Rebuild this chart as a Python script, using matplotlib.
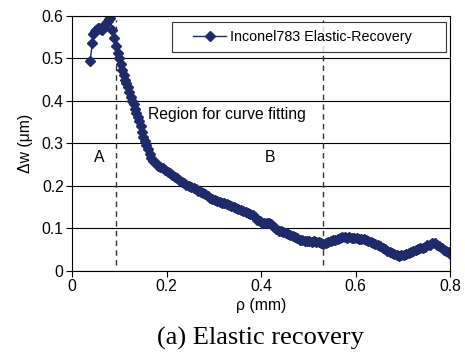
import matplotlib
matplotlib.use("Agg")
from matplotlib import pyplot as plt
from matplotlib.ticker import FuncFormatter
from matplotlib.legend_handler import HandlerLine2D

plt.rcParams['font.family'] = ['Liberation Sans', 'DejaVu Sans']

# radial position (mm) and elastic recovery (um)
rho = [0.038, 0.043, 0.045, 0.048, 0.051, 0.054, 0.057, 0.060, 0.063, 0.066,
       0.069, 0.072, 0.075, 0.078, 0.081, 0.085, 0.089, 0.093, 0.097, 0.100,
       0.103, 0.106, 0.109, 0.112, 0.115, 0.118, 0.121, 0.124, 0.127, 0.130,
       0.133, 0.136, 0.139, 0.142, 0.145, 0.148, 0.151, 0.154, 0.157, 0.160,
       0.164, 0.168, 0.172, 0.177, 0.182, 0.187, 0.192, 0.197, 0.202, 0.207,
       0.212, 0.217, 0.222, 0.227, 0.232, 0.237, 0.242, 0.247, 0.252, 0.257,
       0.262, 0.267, 0.272, 0.277, 0.282, 0.287, 0.292, 0.297, 0.302, 0.307,
       0.312, 0.317, 0.322, 0.327, 0.332, 0.337, 0.342, 0.347, 0.352, 0.357,
       0.362, 0.367, 0.372, 0.377, 0.382, 0.387, 0.392, 0.397, 0.402, 0.407,
       0.412, 0.417, 0.422, 0.427, 0.432, 0.437, 0.442, 0.447, 0.452, 0.457,
       0.462, 0.467, 0.472, 0.477, 0.482, 0.487, 0.492, 0.497, 0.502, 0.507,
       0.512, 0.517, 0.522, 0.527, 0.532, 0.537, 0.542, 0.547, 0.552, 0.557,
       0.562, 0.567, 0.572, 0.577, 0.582, 0.587, 0.592, 0.597, 0.602, 0.607,
       0.612, 0.617, 0.622, 0.627, 0.632, 0.637, 0.642, 0.647, 0.652, 0.657,
       0.662, 0.667, 0.672, 0.677, 0.682, 0.687, 0.692, 0.697, 0.702, 0.707,
       0.712, 0.717, 0.722, 0.727, 0.732, 0.737, 0.742, 0.747, 0.752, 0.757,
       0.762, 0.767, 0.772, 0.777, 0.782, 0.787, 0.792, 0.797, 0.800]
dw = [0.494, 0.536, 0.558, 0.565, 0.568, 0.571, 0.572, 0.569, 0.566, 0.572,
      0.578, 0.583, 0.588, 0.592, 0.596, 0.567, 0.549, 0.530, 0.512, 0.500,
      0.487, 0.472, 0.460, 0.450, 0.442, 0.432, 0.420, 0.410, 0.400, 0.392,
      0.382, 0.372, 0.362, 0.352, 0.340, 0.328, 0.316, 0.306, 0.296, 0.286,
      0.275, 0.266, 0.259, 0.253, 0.248, 0.245, 0.242, 0.238, 0.234, 0.231,
      0.226, 0.222, 0.218, 0.214, 0.210, 0.206, 0.202, 0.199, 0.197, 0.195,
      0.192, 0.189, 0.186, 0.183, 0.180, 0.176, 0.172, 0.169, 0.166, 0.164,
      0.162, 0.160, 0.159, 0.157, 0.155, 0.153, 0.151, 0.149, 0.146, 0.143,
      0.140, 0.138, 0.136, 0.134, 0.131, 0.127, 0.121, 0.117, 0.114, 0.113,
      0.112, 0.114, 0.110, 0.103, 0.098, 0.095, 0.093, 0.092, 0.090, 0.088,
      0.085, 0.083, 0.080, 0.077, 0.074, 0.072, 0.071, 0.071, 0.070, 0.069,
      0.070, 0.069, 0.068, 0.066, 0.064, 0.067, 0.069, 0.070, 0.072, 0.074,
      0.076, 0.078, 0.079, 0.079, 0.078, 0.079, 0.078, 0.077, 0.077, 0.076,
      0.076, 0.075, 0.073, 0.071, 0.069, 0.067, 0.064, 0.061, 0.058, 0.055,
      0.052, 0.048, 0.045, 0.042, 0.040, 0.037, 0.036, 0.037, 0.038, 0.040,
      0.042, 0.044, 0.046, 0.049, 0.052, 0.053, 0.055, 0.056, 0.060, 0.062,
      0.065, 0.066, 0.062, 0.058, 0.053, 0.050, 0.048, 0.044, 0.040]

# boundaries of the fitting region
fit_bounds = [0.093, 0.532]

navy = '#1f2a6b'
fs = 11.3

fig = plt.figure(figsize=(4.65, 3.54), dpi=100)
ax = fig.add_axes([0.155, 0.2345, 0.813, 0.7205])

ax.set_xlim(0, 0.8)
ax.set_ylim(0, 0.6)
ax.set_xticks([0, 0.2, 0.4, 0.6, 0.8])
ax.set_yticks([0, 0.1, 0.2, 0.3, 0.4, 0.5, 0.6])
fmt = FuncFormatter(lambda v, p: '0' if v == 0 else f'{v:g}')
ax.xaxis.set_major_formatter(fmt)
ax.yaxis.set_major_formatter(fmt)
ax.tick_params(direction='out', length=4, width=0.8, labelsize=fs, pad=2)
ax.yaxis.grid(True, color='black', linewidth=0.8)
ax.set_axisbelow(True)
for s in ax.spines.values():
    s.set_linewidth(0.8)

for xb in fit_bounds:
    ax.plot([xb, xb], [0.015, 0.59], color='#333333', linewidth=1.0,
            linestyle=(0, (4, 3)))

line, = ax.plot(rho, dw, color=navy, marker='D', markersize=5, linewidth=1.0,
                label='Inconel783 Elastic-Recovery')

ax.text(0.057, 0.268, 'A', fontsize=fs, ha='center', va='center')
ax.text(0.419, 0.268, 'B', fontsize=fs, ha='center', va='center')
ax.text(0.161, 0.369, 'Region for curve fitting', fontsize=fs,
        ha='left', va='center')

# xpad leaves a gap between the frame and the sample line
leg = ax.legend(handles=[line], loc='upper left',
                bbox_to_anchor=(0.265, 0.851, 0.724, 0.125),
                mode='expand', borderaxespad=0, fontsize=10.3, frameon=True,
                fancybox=False, handlelength=3.22, handletextpad=0.28,
                borderpad=0.55,
                handler_map={line: HandlerLine2D(xpad=0.91)})
leg.get_frame().set_edgecolor('black')
leg.get_frame().set_linewidth(0.8)

ax.set_xlabel('ρ (mm)', fontsize=fs, labelpad=3)
ax.set_ylabel('Δw (μm)', fontsize=fs, labelpad=6)

fig.text(0.561, 0.045, '(a) Elastic recovery', fontsize=19,
         family=['Liberation Serif', 'DejaVu Serif'], ha='center', va='center')

fig.savefig('out.png', dpi=100)
